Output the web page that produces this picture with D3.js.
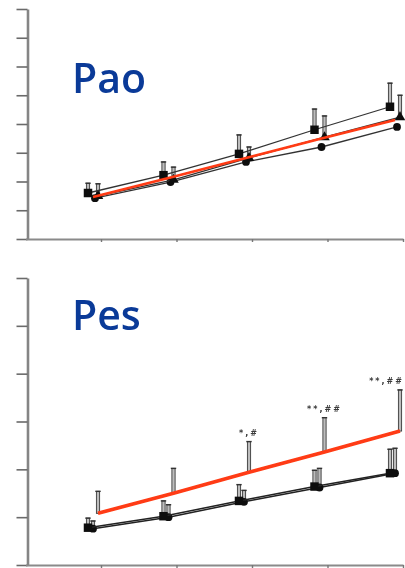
<!DOCTYPE html>
<html>
<head>
<meta charset="utf-8">
<script src="https://cdn.jsdelivr.net/npm/d3@7/dist/d3.min.js"></script>
<style>
  html, body { margin: 0; padding: 0; background: #fff; }
  svg { display: block; }
</style>
</head>
<body>
<svg id="chart" width="405" height="568"></svg>
<script>
// Time points (x positions 1..5)
const steps = [1, 2, 3, 4, 5];

// Pao panel: three measured series and the reference line
const paoA = [8.0, 11.1, 14.8, 19.0, 23.0];
const paoAErr = [1.7, 2.3, 3.3, 3.6, 4.1];
const paoB = [7.5, 10.3, 14.1, 17.7, 21.2];
const paoBErr = [2.1, 2.2, 1.9, 3.7, 3.8];
const paoC = [7.1, 9.9, 13.4, 16.0, 19.5];
const paoRed = [7.3, 10.6, 14.0, 17.4, 20.7];

// Pes panel: two measured series and the highlighted series with significance marks
const pesA = [3.9, 5.1, 6.7, 8.2, 9.6];
const pesAErr = [1.0, 1.6, 1.7, 1.7, 2.5];
const pesB = [3.8, 5.0, 6.6, 8.1, 9.6];
const pesBErr = [0.8, 1.3, 1.2, 2.0, 2.6];
const pesRed = [5.4, 7.5, 9.7, 11.8, 14.0];
const pesRedErr = [2.3, 2.6, 3.2, 3.6, 4.3];
const pesMarks = ["", "", "*,#", "**,##", "**,##"];

const W = 405;
const svg = d3.select("#chart");
const defs = svg.append("defs");
defs.append("filter").attr("id", "soft")
  .attr("x", "-10%").attr("y", "-10%").attr("width", "120%").attr("height", "120%")
  .append("feGaussianBlur").attr("stdDeviation", 0.6);

const axisX = 27.5;
const x = d3.scaleLinear().domain([0, 5]).range([25.5, 403]);

function panel(cfg) {
  const g = svg.append("g").attr("filter", "url(#soft)");
  const y = d3.scaleLinear().domain(cfg.domain).range([cfg.bottom, cfg.top]);

  // y axis
  const ya = g.append("g").attr("transform", `translate(${axisX},0)`)
    .call(d3.axisLeft(y).ticks(cfg.ticks).tickSize(11).tickSizeOuter(0).tickFormat(""));
  ya.select(".domain").attr("stroke", "#858585").attr("stroke-width", 2.6);
  ya.selectAll(".tick line").attr("stroke", "#6a6a6a").attr("stroke-width", 1.6);

  // x axis
  const xa = g.append("g").attr("transform", `translate(0,${cfg.bottom})`)
    .call(d3.axisBottom(x).tickValues(steps).tickSize(3).tickSizeOuter(0).tickFormat(""));
  xa.select(".domain").attr("stroke", "#8a8a8a").attr("stroke-width", 2.2);
  xa.selectAll(".tick line").attr("stroke", "#777").attr("stroke-width", 1.4);

  const line = (dx) => d3.line().x((d, i) => x(steps[i]) + dx).y(d => y(d));

  // error bars (upward only): hollow stem with cap
  function errBars(vals, errs, dx) {
    const eg = g.append("g");
    vals.forEach((v, i) => {
      if (!errs[i]) return;
      const cx = x(steps[i]) + dx;
      const y0 = y(v), y1 = y(v + errs[i]);
      eg.append("rect").attr("x", cx - 1.6).attr("y", y1).attr("width", 3.2).attr("height", y0 - y1)
        .attr("fill", "#bdbdbd").attr("stroke", "#3a3a3a").attr("stroke-width", 0.9);
      eg.append("line").attr("x1", cx - 2.7).attr("x2", cx + 2.7).attr("y1", y1).attr("y2", y1)
        .attr("stroke", "#333").attr("stroke-width", 1.4);
    });
  }

  function markers(vals, dx, shape) {
    const sym = d3.symbol().type(shape).size(shape === d3.symbolSquare ? 72 : 48);
    g.append("g").selectAll("path").data(vals).join("path")
      .attr("transform", (d, i) => `translate(${x(steps[i]) + dx},${y(d)})`)
      .attr("d", sym).attr("fill", "#111");
  }

  cfg.series.forEach(s => {
    if (s.err) errBars(s.values, s.err, s.dx);
  });
  cfg.series.forEach(s => {
    g.append("path").attr("d", line(s.dx)(s.values))
      .attr("fill", "none").attr("stroke", s.color).attr("stroke-width", s.width);
    if (s.shape) markers(s.values, s.dx, s.shape);
  });

  if (cfg.marks) {
    const s = cfg.marks;
    const labels = g.append("g").selectAll("text").data(s.labels).join("text")
      .attr("x", (d, i) => x(steps[i]) + s.dx)
      .attr("y", (d, i) => y(s.values[i] + s.err[i]) - 6)
      .attr("text-anchor", "middle")
      .attr("font-family", "DejaVu Sans, sans-serif")
      .attr("font-weight", "bold")
      .attr("font-size", 8).attr("letter-spacing", 2)
      .attr("fill", "#3a3a3a")
      .text(d => d);
    // keep labels inside the right edge
    labels.each(function () {
      const b = this.getBBox();
      if (b.x + b.width > W - 1) {
        d3.select(this).attr("x", +d3.select(this).attr("x") - (b.x + b.width - (W - 1)));
      }
    });
  }

  svg.append("text").attr("x", 72).attr("y", cfg.titleY)
    .attr("font-family", "Open Sans, Noto Sans, sans-serif")
    .attr("font-weight", 600).attr("font-size", 41)
    .attr("fill", "#0a3a98")
    .text(cfg.title);
}

panel({
  title: "Pao", titleY: 93,
  domain: [0, 40], ticks: 8, top: 9, bottom: 239,
  series: [
    { values: paoC, dx: -6, color: "#333", width: 1.3, shape: d3.symbolCircle },
    { values: paoB, err: paoBErr, dx: -3, color: "#333", width: 1.3, shape: d3.symbolTriangle },
    { values: paoA, err: paoAErr, dx: -13, color: "#333", width: 1.3, shape: d3.symbolSquare },
    { values: paoRed, dx: -8, color: "#ff3a12", width: 2.6 }
  ]
});

panel({
  title: "Pes", titleY: 330,
  domain: [0, 30], ticks: 6, top: 278, bottom: 565,
  series: [
    { values: pesB, err: pesBErr, dx: -8, color: "#222", width: 1.5, shape: d3.symbolCircle },
    { values: pesA, err: pesAErr, dx: -13, color: "#222", width: 1.5, shape: d3.symbolSquare },
    { values: pesRed, err: pesRedErr, dx: -3, color: "#ff3a12", width: 3.6 }
  ],
  marks: { labels: pesMarks, values: pesRed, err: pesRedErr, dx: -3 }
});
</script>
</body>
</html>
